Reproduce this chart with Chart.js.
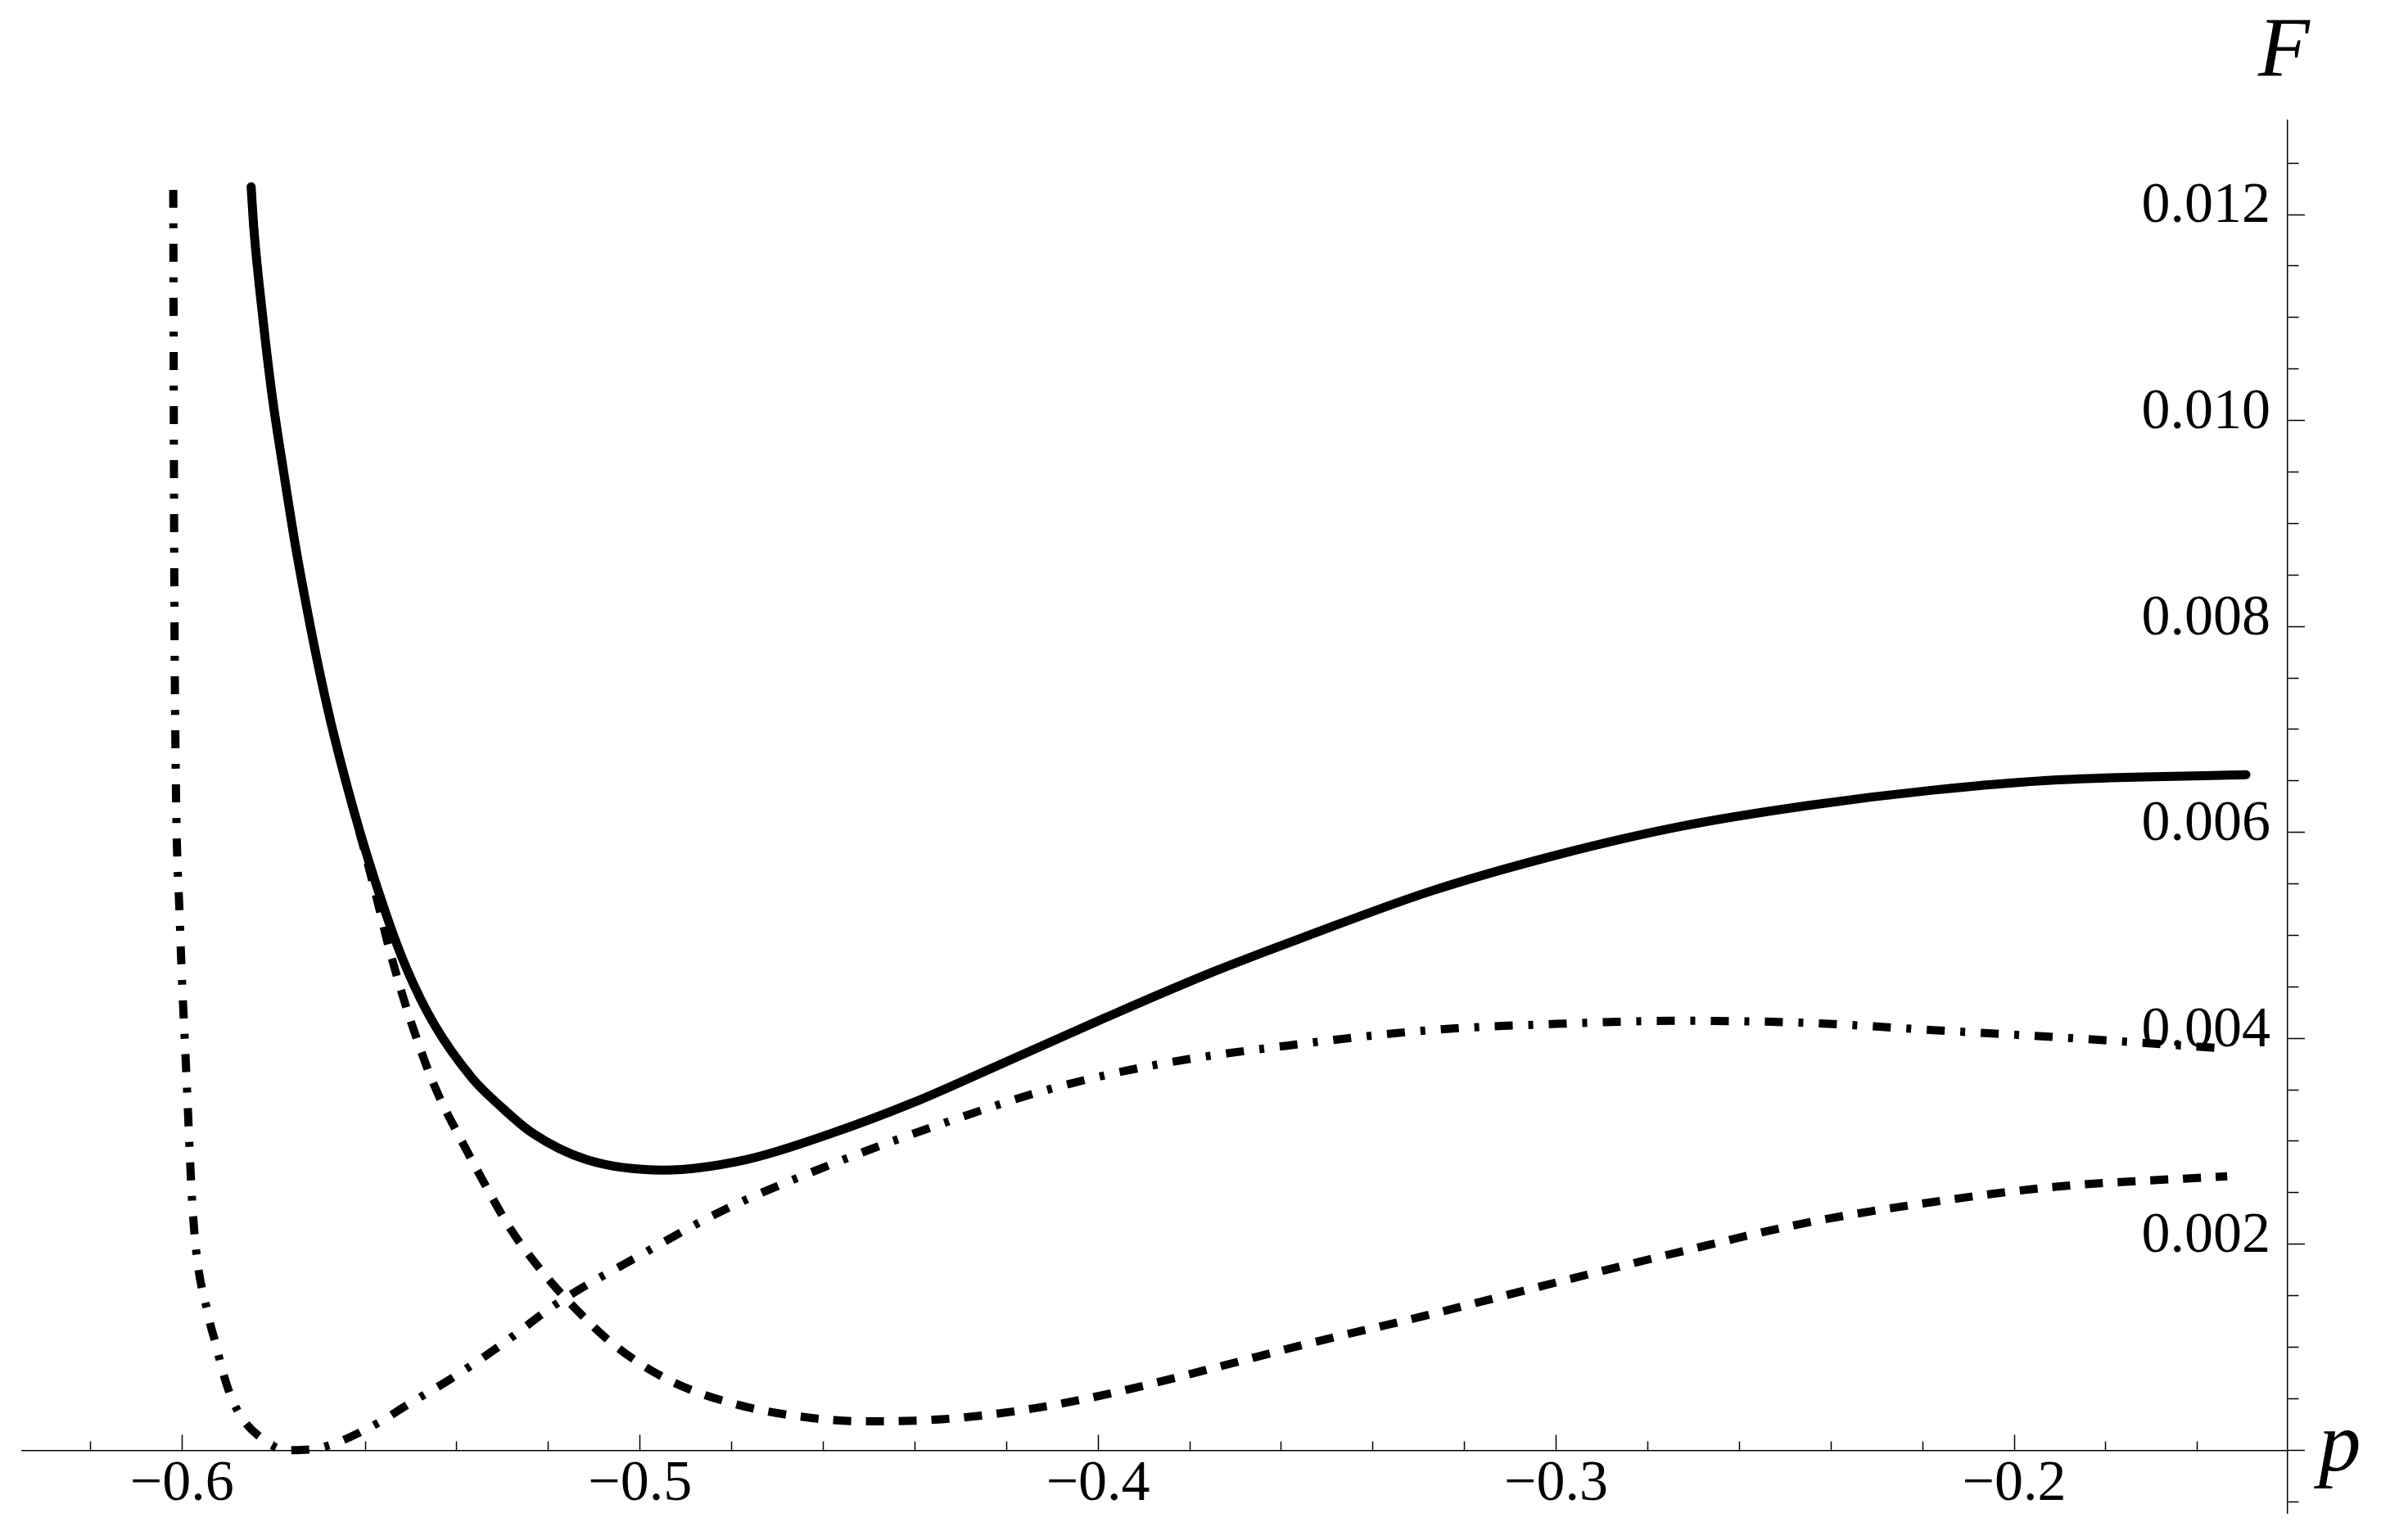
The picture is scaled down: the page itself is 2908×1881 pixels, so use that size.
<!DOCTYPE html>
<html>
<head>
<meta charset="utf-8">
<script src="https://cdn.jsdelivr.net/npm/chart.js@4.4.1/dist/chart.umd.min.js"></script>
<style>
  html, body { margin: 0; padding: 0; background: #fff; }
  #wrap { width: 2908px; height: 1881px; }
</style>
</head>
<body>
<div id="wrap"><canvas id="chart" width="2908" height="1881"></canvas></div>
<script>
// solid curve
var solidP = [-0.5849, -0.5843, -0.5825, -0.5804, -0.5777, -0.5749, -0.5688, -0.5628, -0.5554, -0.5509,
  -0.5450, -0.5366, -0.5307, -0.5235, -0.5116, -0.4949, -0.4770, -0.4580, -0.4401, -0.4222,
  -0.3984, -0.3746, -0.3546, -0.3273, -0.2999, -0.2726, -0.2452, -0.2178, -0.1905, -0.1494];
var solidF = [0.01227, 0.01186, 0.01106, 0.01027, 0.00947, 0.00870, 0.00732, 0.00626, 0.00520, 0.00467,
  0.00414, 0.00361, 0.00335, 0.00308, 0.00282, 0.00272, 0.00282, 0.00308, 0.00338, 0.00373,
  0.00420, 0.00465, 0.00499, 0.00543, 0.00578, 0.00606, 0.00626, 0.00641, 0.00651, 0.00656];

// dashed curve
var dashedP = [-0.5849, -0.5843, -0.5825, -0.5804, -0.5777, -0.5749, -0.5688, -0.5628, -0.5598, -0.5572,
  -0.5550, -0.5528, -0.5506, -0.5483, -0.5460, -0.5433, -0.5402, -0.5342, -0.5283, -0.5211,
  -0.5140, -0.5056, -0.4937, -0.4794, -0.4639, -0.4508, -0.4341, -0.4163, -0.3984, -0.3746,
  -0.3555, -0.3273, -0.2999, -0.2726, -0.2452, -0.2178, -0.1905, -0.1535];
var dashedF = [0.01227, 0.01186, 0.01106, 0.01027, 0.00947, 0.00870, 0.00732, 0.00626, 0.00576, 0.00531,
  0.00491, 0.00456, 0.00424, 0.00394, 0.00366, 0.00338, 0.00311, 0.00261, 0.00215, 0.00172,
  0.00137, 0.00102, 0.00068, 0.00045, 0.00032, 0.00028, 0.00030, 0.00039, 0.00054, 0.00080,
  0.00102, 0.00132, 0.00163, 0.00193, 0.00221, 0.00241, 0.00256, 0.00266];

// dash-dot curve
var dotDashP = [-0.6019, -0.6017, -0.6014, -0.6005, -0.5990, -0.5976, -0.5941, -0.5926, -0.5912, -0.5893,
  -0.5867, -0.5824, -0.5772, -0.5713, -0.5658, -0.5604, -0.5554, -0.5512, -0.5414, -0.5307,
  -0.5176, -0.5009, -0.4818, -0.4580, -0.4341, -0.4103, -0.3865, -0.3567, -0.3273, -0.2999,
  -0.2726, -0.2452, -0.2178, -0.1905, -0.1535];
var dotDashF = [0.01224, 0.00874, 0.00674, 0.00518, 0.00361, 0.00229, 0.00128, 0.00103, 0.00078, 0.00052,
  0.00030, 0.00011, 0.00000, 0.00001, 0.00008, 0.00019, 0.00031, 0.00043, 0.00069, 0.00101,
  0.00144, 0.00187, 0.00233, 0.00278, 0.00317, 0.00351, 0.00375, 0.00394, 0.00408, 0.00414,
  0.00417, 0.00415, 0.00408, 0.00401, 0.00390];

// axes
var xMajor = [-0.6, -0.5, -0.4, -0.3, -0.2];
var xLabels = ['\u22120.6', '\u22120.5', '\u22120.4', '\u22120.3', '\u22120.2'];
var yMajor = [0.002, 0.004, 0.006, 0.008, 0.010, 0.012];
var yLabels = ['0.002', '0.004', '0.006', '0.008', '0.010', '0.012'];

var serif = '"Liberation Serif", "Times New Roman", serif';

function points(xs, ys) {
  return xs.map((x, i) => ({x: x, y: ys[i]}));
}

// minor + major tick list, long ticks where a label sits (or at 0)
function tickList(from, to, step, major, labels) {
  var list = [];
  var n = Math.round((to - from) / step);
  for (var i = 0; i <= n; i++) {
    var v = Math.round((from + i * step) / step) * step;
    var label = '';
    major.forEach((m, j) => {
      if (Math.abs(m - v) < step / 10) label = labels[j];
    });
    list.push({value: v, label: label, long: label !== '' || Math.abs(v) < step / 10});
  }
  return list;
}

var xTicks = tickList(-0.62, -0.16, 0.02, xMajor, xLabels);
var yTicks = tickList(-0.0005, 0.0125, 0.0005, yMajor, yLabels);

var axisLabels = {
  id: 'axisLabels',
  afterDraw(chart) {
    var ctx = chart.ctx;
    ctx.save();
    ctx.fillStyle = '#000';
    ctx.font = 'italic 103px ' + serif;
    ctx.textAlign = 'left';
    ctx.textBaseline = 'alphabetic';
    ctx.fillText('F', 2758, 93);
    ctx.fillText('p', 2832, 1796);
    ctx.restore();
  }
};

var ctx = document.getElementById('chart').getContext('2d');
var chart = new Chart(ctx, {
  type: 'scatter',
  data: {
    datasets: [{
      data: points(solidP, solidF),
      showLine: true,
      borderColor: '#000',
      borderWidth: 11,
      borderCapStyle: 'round',
      cubicInterpolationMode: 'monotone',
      pointRadius: 0
    }, {
      data: points(dashedP, dashedF),
      showLine: true,
      borderColor: '#000',
      borderWidth: 10,
      borderDash: [22, 18],
      cubicInterpolationMode: 'monotone',
      pointRadius: 0
    }, {
      data: points(dotDashP, dotDashF),
      showLine: true,
      borderColor: '#000',
      borderWidth: 10,
      borderDash: [22, 19, 6, 19],
      cubicInterpolationMode: 'monotone',
      pointRadius: 0
    }]
  },
  options: {
    responsive: false,
    animation: false,
    events: [],
    devicePixelRatio: 1,
    layout: {
      padding: {left: 27, top: 147, right: 114, bottom: 33}
    },
    plugins: {
      legend: {display: false},
      tooltip: {enabled: false}
    },
    scales: {
      x: {
        type: 'linear',
        position: {y: 0},
        min: -0.6349,
        max: -0.1403,
        afterBuildTicks: scale => {
          scale.ticks = xTicks.map(t => ({value: t.value}));
        },
        ticks: {
          autoSkip: false,
          maxRotation: 0,
          padding: 20,
          color: '#000',
          font: {family: serif, size: 70},
          callback: (value, index) => xTicks[index].label
        },
        grid: {
          drawOnChartArea: false,
          drawTicks: true,
          tickLength: -20,
          tickWidth: 1.5,
          tickColor: '#000',
          tickBorderDash: c => (xTicks[c.index] && xTicks[c.index].long) ? [] : [12, 300]
        },
        border: {display: true, color: '#000', width: 1.5}
      },
      y: {
        type: 'linear',
        position: 'right',
        min: -0.00061,
        max: 0.012915,
        afterBuildTicks: scale => {
          scale.ticks = yTicks.map(t => ({value: t.value}));
        },
        ticks: {
          autoSkip: false,
          mirror: true,
          padding: -21,
          labelOffset: -9,
          color: '#000',
          font: {family: serif, size: 70, lineHeight: 0.2},
          callback: (value, index) => yTicks[index].label
        },
        grid: {
          drawOnChartArea: false,
          drawTicks: true,
          tickLength: 21,
          tickWidth: 1.5,
          tickColor: '#000',
          tickBorderDash: c => (yTicks[c.index] && yTicks[c.index].long) ? [] : [13, 300]
        },
        border: {display: true, color: '#000', width: 1.5}
      }
    }
  },
  plugins: [axisLabels]
});
</script>
</body>
</html>
